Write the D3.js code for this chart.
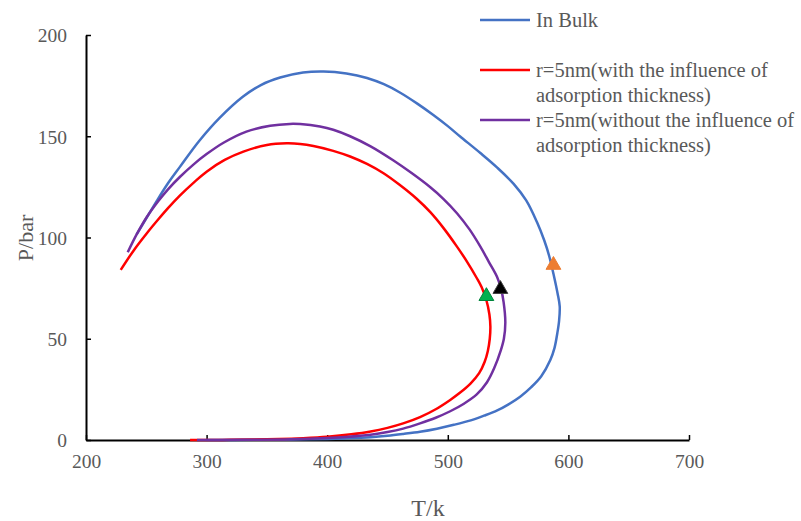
<!DOCTYPE html>
<html>
<head>
<meta charset="utf-8">
<script src="https://cdn.jsdelivr.net/npm/d3@7"></script>
<style>
    body { margin: 0; background: #fff; }
    text { font-family: "Liberation Serif", "Times New Roman", serif; fill: #595959; }
</style>
</head>
<body>
<div id="plot"></div>
<script>
// phase envelope data, [T/k, P/bar]
let bulkCurve = [[242, 101.5], [250, 109.5], [258.6, 118], [268, 126.8], [278, 135], [294, 147.8],
    [311, 159.2], [330, 169.5], [345, 175.3], [361, 179], [380, 181.5], [397, 182], [416, 181],
    [433, 178.8], [447, 175.7], [460.6, 171.5], [475, 166], [488, 160.5], [500, 155], [510, 150],
    [527, 141.7], [541, 134.5], [554.6, 126.5], [565, 118.3], [574, 107.5], [580, 98.5], [584, 91], [588, 81],
    [591, 72.5], [592.8, 66], [592.3, 59], [590.8, 52.7], [588.5, 45.5], [585, 39.5], [577.5, 31.5],
    [569, 26], [560, 21.4], [550, 17.5], [541, 14.6], [530, 12], [519, 9.7], [505, 7.5], [491, 5.6],
    [477, 4.1], [463, 3], [450, 2.1], [436, 1.4], [415, 0.8], [400, 0.5], [370, 0.25], [340, 0.1], [300, 0]];

let withAdsorption = [[228.8, 84], [240, 94], [250.3, 102], [260, 109], [268, 114.5], [278, 120.8],
    [290, 127.5], [300, 132.5], [315, 138.3], [330.5, 142.4], [350, 145.7], [366.5, 146.5], [377.6, 146.2],
    [388.6, 145.2], [405, 142.8], [419, 140], [433, 136.3], [446.7, 131.7], [460, 126], [474.4, 119],
    [485.5, 112.5], [496, 105], [507.6, 95.5], [516, 88], [524, 80], [528, 75.5], [532, 69], [534.5, 62],
    [535.3, 56], [534.8, 50], [533.2, 44], [530.5, 38.5], [526, 33], [519, 28], [510, 23.3], [502, 19.8],
    [490, 15.2], [477, 11.3], [463, 8.2], [450, 6], [436, 4.2], [420, 2.8], [400, 1.6], [380, 0.9],
    [360, 0.45], [340, 0.2], [320, 0.08], [300, 0.02], [286.3, 0]];

let withoutAdsorption = [[234.6, 92.7], [242, 101.5], [250.3, 110], [260, 118], [268, 123.8], [278, 130],
    [290, 136.5], [300, 141.2], [314, 146.8], [333, 152.3], [352.7, 155.2], [369, 156.1], [377.6, 156],
    [394, 154.8], [405, 153.2], [419, 150], [436, 145], [455, 138], [470, 131.8], [485.5, 124.8],
    [496.5, 119], [507.6, 112], [518, 104], [527, 95.5], [534, 88], [540.8, 80.6], [544, 75],
    [546.3, 68], [547.7, 58], [546.5, 50], [543.8, 44], [538.5, 35.5], [532.5, 28.5], [524, 22.5],
    [513, 17.8], [502, 14.2], [490, 11], [477, 8.2], [463, 5.6], [450, 3.9], [436, 2.6], [415, 1.5],
    [400, 1], [370, 0.4], [340, 0.15], [310, 0.05], [292, 0]];

let seriesNames = ["In Bulk", "r=5nm(with the influence of\nadsorption thickness)",
    "r=5nm(without the influence of\nadsorption thickness)"];
let seriesColors = ["#4472C4", "#FF0000", "#7030A0"];

// critical points (triangles)
let criticalPoints = [
    { T: 587.6, P: 86.4, color: "#ED7D31", stroke: "#ED7D31" },
    { T: 543.6, P: 74.5, color: "#000000", stroke: "#404040" },
    { T: 532, P: 71, color: "#00B050", stroke: "#00843C" }
];

let xTicks = [200, 300, 400, 500, 600, 700];
let yTicks = [0, 50, 100, 150, 200];

let width = 801,
    height = 521;

let svg = d3.select("#plot").append("svg")
    .attr("width", width)
    .attr("height", height);

let x = d3.scaleLinear().domain([200, 700]).range([86, 689]);
let y = d3.scaleLinear().domain([0, 200]).range([440, 35]);

// axes
let xAxis = d3.axisBottom(x).tickValues(xTicks).tickSizeInner(-5).tickSizeOuter(0).tickPadding(14);
let yAxis = d3.axisLeft(y).tickValues(yTicks).tickSizeInner(-5).tickSizeOuter(0).tickPadding(19);

let gx = svg.append("g").attr("transform", "translate(0,440)").call(xAxis);
let gy = svg.append("g").attr("transform", "translate(86,0)").call(yAxis);

[gx, gy].forEach(function (g) {
    g.select(".domain").attr("stroke", "#000").attr("stroke-width", 2);
    g.selectAll(".tick line").attr("stroke", "#000").attr("stroke-width", 1.5);
    g.selectAll(".tick text")
        .attr("font-size", 19.5)
        .attr("fill", "#595959");
});
gy.selectAll(".tick text").attr("dy", "0.35em");

// curves
let line = d3.line()
    .curve(d3.curveCatmullRom.alpha(0.5))
    .x(function (d) { return x(d[0]); })
    .y(function (d) { return y(d[1]); });

let curves = [bulkCurve, withAdsorption, withoutAdsorption];
curves.forEach(function (c, i) {
    svg.append("path")
        .datum(c)
        .attr("d", line)
        .attr("fill", "none")
        .attr("stroke", seriesColors[i])
        .attr("stroke-width", 2.5)
        .attr("stroke-linejoin", "round");
});

// triangles
svg.selectAll(".crit")
    .data(criticalPoints)
    .enter()
    .append("path")
    .attr("class", "crit")
    .attr("d", d3.symbol().type(d3.symbolTriangle).size(95))
    .attr("transform", function (d) {
        return "translate(" + x(d.T) + "," + y(d.P) + ")";
    })
    .attr("fill", function (d) { return d.color; })
    .attr("stroke", function (d) { return d.stroke; })
    .attr("stroke-width", 1);

// legend
let legendY = [20, 70, 120];
let legend = svg.append("g").attr("class", "legend");
seriesNames.forEach(function (name, i) {
    legend.append("line")
        .attr("x1", 480).attr("x2", 530)
        .attr("y1", legendY[i]).attr("y2", legendY[i])
        .attr("stroke", seriesColors[i])
        .attr("stroke-width", 2.5);
    let t = legend.append("text")
        .attr("x", 536)
        .attr("y", legendY[i] + 7)
        .attr("font-size", 20.5);
    name.split("\n").forEach(function (part, j) {
        t.append("tspan")
            .attr("x", 536)
            .attr("dy", j === 0 ? 0 : 24.5)
            .text(part);
    });
});

// axis titles
svg.append("text")
    .attr("x", 428)
    .attr("y", 516)
    .attr("text-anchor", "middle")
    .attr("font-size", 24)
    .text("T/k");

svg.append("text")
    .attr("transform", "translate(33,238) rotate(-90)")
    .attr("text-anchor", "middle")
    .attr("font-size", 22)
    .text("P/bar");
</script>
</body>
</html>
